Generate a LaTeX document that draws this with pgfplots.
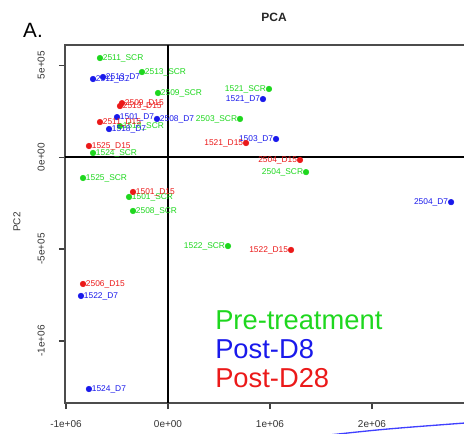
\documentclass[border=0pt]{standalone}
\usepackage{pgfplots}
\usepackage{fontspec}
\setmainfont{Liberation Sans}
\pgfplotsset{compat=1.18}

\definecolor{scrgreen}{RGB}{30,215,30}
\definecolor{dsblue}{RGB}{25,25,235}
\definecolor{dfred}{RGB}{235,25,25}

\begin{document}
\begin{tikzpicture}
\begin{axis}[
  at={(0,0)}, anchor=south west,
  scale only axis, width=313.5pt, height=268.5pt,
  xmin=-1.0098, xmax=3.088, ymin=-1.337, ymax=0.609,
  axis line style={black!70, line width=1.1pt},
  xtick={-1,0,1,2}, xticklabels={-1e+06,0e+00,1e+06,2e+06},
  ytick={-1,-0.5,0,0.5}, yticklabels={-1e+06,-5e+05,0e+00,5e+05},
  xtick pos=bottom, ytick pos=left, tick align=outside,
  major tick length=4.5pt,
  tick style={black!75, line width=0.8pt},
  ticklabel style={font=\fontsize{7.5}{8}\selectfont, text=black!80},
  xticklabel style={inner sep=0pt}, xticklabel shift=8.5pt,
  yticklabel style={rotate=90, anchor=south, inner sep=0pt}, yticklabel shift=10.5pt,
  clip=false,
  mark size=2.1pt,
  every node near coord/.append style={font=\fontsize{6.3}{7}\selectfont, inner sep=2pt},
]
\draw[black, line width=1.1pt] (axis cs:0,-1.337) -- (axis cs:0,0.609);
\draw[black, line width=1.1pt] (axis cs:-1.0098,0) -- (axis cs:3.088,0);

% Pre-treatment, label on the right
\addplot[only marks, mark=*, scrgreen, nodes near coords, point meta=explicit symbolic,
  nodes near coords style={anchor=west, text=scrgreen}] table[meta=label] {
x y label
-0.667 0.538 2511\_SCR
-0.255 0.462 2513\_SCR
-0.098 0.348 2509\_SCR
-0.471 0.168 1518\_SCR
-0.735 0.022 1524\_SCR
-0.833 -0.114 1525\_SCR
-0.382 -0.217 1501\_SCR
-0.343 -0.293 2508\_SCR
};
% Pre-treatment, label on the left
\addplot[only marks, mark=*, scrgreen, nodes near coords, point meta=explicit symbolic,
  nodes near coords style={anchor=east, text=scrgreen}] table[meta=label] {
x y label
0.990 0.370 1521\_SCR
0.706 0.207 2503\_SCR
1.353 -0.082 2504\_SCR
0.588 -0.484 1522\_SCR
};

% Post-D8, label on the right
\addplot[only marks, mark=*, dsblue, nodes near coords, point meta=explicit symbolic,
  nodes near coords style={anchor=west, text=dsblue}] table[meta=label] {
x y label
-0.735 0.424 2511\_D7
-0.637 0.435 2513\_D7
-0.500 0.217 1501\_D7
-0.108 0.207 2508\_D7
-0.578 0.152 1518\_D7
-0.853 -0.755 1522\_D7
-0.775 -1.261 1524\_D7
};
% Post-D8, label on the left
\addplot[only marks, mark=*, dsblue, nodes near coords, point meta=explicit symbolic,
  nodes near coords style={anchor=east, text=dsblue}] table[meta=label] {
x y label
0.931 0.315 1521\_D7
1.059 0.098 1503\_D7
2.775 -0.245 2504\_D7
};

% Post-D28, label on the right
\addplot[only marks, mark=*, dfred, nodes near coords, point meta=explicit symbolic,
  nodes near coords style={anchor=west, text=dfred}] table[meta=label] {
x y label
-0.451 0.293 2509\_D15
-0.471 0.277 2513\_D15
-0.667 0.190 2511\_D15
-0.775 0.060 1525\_D15
-0.343 -0.190 1501\_D15
-0.833 -0.690 2506\_D15
};
% Post-D28, label on the left
\addplot[only marks, mark=*, dfred, nodes near coords, point meta=explicit symbolic,
  nodes near coords style={anchor=east, text=dfred}] table[meta=label] {
x y label
0.765 0.076 1521\_D15
1.294 -0.016 2504\_D15
1.206 -0.505 1522\_D15
};
\end{axis}

% texts outside the data area (1 px = 0.75pt, origin at the lower left of the frame)
\node[font=\bfseries\fontsize{9}{10}\selectfont, text=black!85] at (156.75pt,289pt) {PCA};
\node[font=\fontsize{15.5}{16}\selectfont] at (-24pt,279.75pt) {A.};
\node[rotate=90, font=\fontsize{7.5}{8}\selectfont, text=black!80] at (-36pt,135.75pt) {PC2};
\node[anchor=base west, inner sep=0pt, font=\fontsize{20.5}{21}\selectfont, text=scrgreen] at (112.5pt,55.5pt) {Pre-treatment};
\node[anchor=base west, inner sep=0pt, font=\fontsize{20.5}{21}\selectfont, text=dsblue] at (112.5pt,33.75pt) {Post-D8};
\node[anchor=base west, inner sep=0pt, font=\fontsize{20.5}{21}\selectfont, text=dfred] at (112.5pt,12pt) {Post-D28};
\draw[blue!75, line width=1pt] (198pt,-24pt) .. controls (240pt,-19.5pt) .. (300pt,-15pt);

\pgfresetboundingbox
\path[use as bounding box] (-48.75pt,-22.5pt) rectangle (299.25pt,302.25pt);
\end{tikzpicture}
\end{document}
